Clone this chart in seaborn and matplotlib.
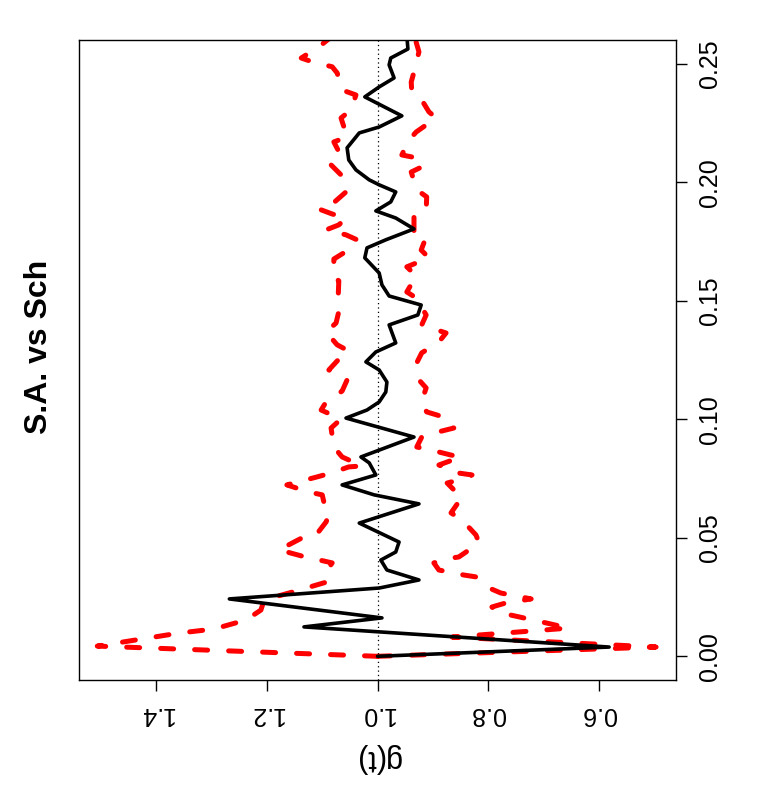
import matplotlib
matplotlib.use('Agg')
import matplotlib.pyplot as plt
import seaborn as sns
import pandas as pd

# distance t and observed pair correlation g(t) (black curve)
t_obs = [0.0, 0.0039, 0.0124, 0.0162, 0.0242, 0.0288, 0.0322, 0.0364, 0.0406, 0.0440,
         0.0482, 0.0562, 0.0643, 0.0681, 0.0723, 0.0765, 0.0816, 0.0841, 0.0925, 0.1005,
         0.1039, 0.1073, 0.1115, 0.1157, 0.1208, 0.1242, 0.1284, 0.1322, 0.1398, 0.1440,
         0.1482, 0.1520, 0.1567, 0.1617, 0.1681, 0.1723, 0.1757, 0.1803, 0.1849, 0.1879,
         0.1917, 0.1959, 0.1989, 0.2010, 0.2052, 0.2094, 0.2145, 0.2208, 0.2233, 0.2280,
         0.2360, 0.2402, 0.2440, 0.2495, 0.2524, 0.2562, 0.2620]
g_obs = [1.000, 0.581, 1.133, 0.992, 1.268, 0.997, 0.925, 0.983, 0.994, 0.967,
         0.961, 1.033, 0.925, 1.006, 1.064, 1.003, 1.015, 1.030, 0.934, 1.057,
         1.019, 0.997, 0.985, 0.983, 0.997, 1.021, 1.003, 0.967, 0.979, 0.927,
         0.921, 0.979, 0.992, 0.997, 1.023, 1.019, 0.985, 0.934, 0.967, 1.003,
         0.976, 0.967, 0.997, 1.015, 1.039, 1.052, 1.055, 1.033, 0.997, 0.956,
         1.023, 0.997, 0.970, 0.979, 0.976, 0.945, 0.947]

# upper simulation envelope
t_hi = [0.0, 0.0043, 0.0098, 0.0115, 0.0153, 0.0195, 0.0238, 0.0271, 0.0314, 0.0364,
        0.0394, 0.0423, 0.0449, 0.0499, 0.0512, 0.0567, 0.0596, 0.0609, 0.0681, 0.0693,
        0.0723, 0.0757, 0.0773, 0.0799, 0.0803, 0.0841, 0.0883, 0.0963, 0.1001, 0.1039,
        0.1073, 0.1119, 0.1166, 0.1208, 0.1246, 0.1288, 0.1314, 0.1368, 0.1406, 0.1474,
        0.1524, 0.1584, 0.1600, 0.1676, 0.1702, 0.1757, 0.1778, 0.1799, 0.1820, 0.1849,
        0.1866, 0.1887, 0.1908, 0.1959, 0.2010, 0.2073, 0.2111, 0.2170, 0.2191, 0.2271,
        0.2305, 0.2368, 0.2389, 0.2461, 0.2487, 0.2508, 0.2524, 0.2571, 0.2622]
g_hi = [1.000, 1.507, 1.359, 1.296, 1.238, 1.211, 1.205, 1.154, 1.091, 1.091,
        1.082, 1.137, 1.178, 1.137, 1.111, 1.093, 1.088, 1.093, 1.100, 1.124,
        1.164, 1.109, 1.084, 1.052, 1.028, 1.064, 1.079, 1.084, 1.066, 1.102,
        1.093, 1.064, 1.055, 1.088, 1.073, 1.052, 1.073, 1.093, 1.075, 1.068,
        1.071, 1.070, 1.079, 1.079, 1.061, 1.037, 1.057, 1.093, 1.070, 1.057,
        1.082, 1.106, 1.082, 1.057, 1.057, 1.084, 1.066, 1.079, 1.055, 1.066,
        1.048, 1.039, 1.064, 1.073, 1.082, 1.118, 1.138, 1.106, 1.079]

# lower simulation envelope
t_lo = [0.0, 0.0039, 0.0081, 0.0119, 0.0145, 0.0187, 0.0208, 0.0225, 0.0242, 0.0267,
        0.0288, 0.0335, 0.0343, 0.0364, 0.0394, 0.0411, 0.0419, 0.0478, 0.0512, 0.0575,
        0.0605, 0.0672, 0.0693, 0.0731, 0.0744, 0.0765, 0.0773, 0.0807, 0.0841, 0.0849,
        0.0870, 0.0883, 0.0925, 0.0942, 0.0963, 0.1005, 0.1031, 0.1069, 0.1132, 0.1166,
        0.1238, 0.1280, 0.1326, 0.1364, 0.1398, 0.1440, 0.1512, 0.1537, 0.1605, 0.1643,
        0.1681, 0.1714, 0.1769, 0.1790, 0.1854, 0.1879, 0.1938, 0.1968, 0.2043, 0.2069,
        0.2103, 0.2115, 0.2178, 0.2212, 0.2271, 0.2297, 0.2347, 0.2381, 0.2423, 0.2465,
        0.2550, 0.2622]
g_lo = [1.000, 0.496, 0.865, 0.654, 0.703, 0.784, 0.793, 0.768, 0.722, 0.777,
        0.798, 0.822, 0.844, 0.889, 0.898, 0.876, 0.853, 0.816, 0.822, 0.847,
        0.867, 0.847, 0.858, 0.874, 0.853, 0.829, 0.853, 0.889, 0.849, 0.867,
        0.903, 0.929, 0.920, 0.898, 0.862, 0.874, 0.911, 0.921, 0.912, 0.925,
        0.929, 0.920, 0.889, 0.876, 0.920, 0.912, 0.930, 0.947, 0.930, 0.947,
        0.907, 0.921, 0.912, 0.934, 0.934, 0.912, 0.911, 0.929, 0.939, 0.916,
        0.930, 0.956, 0.943, 0.930, 0.894, 0.907, 0.920, 0.938, 0.939, 0.934,
        0.925, 0.934]

x_ticks = [0.6, 0.8, 1.0, 1.2, 1.4]
t_ticks = [0.00, 0.05, 0.10, 0.15, 0.20, 0.25]

sns.set_style('white')
plt.rcParams['font.family'] = ['Liberation Sans', 'DejaVu Sans']
plt.rcParams['text.color'] = 'black'
plt.rcParams['axes.labelcolor'] = 'black'
plt.rcParams['xtick.color'] = 'black'
plt.rcParams['ytick.color'] = 'black'

fig = plt.figure(figsize=(7.77, 8.0), dpi=100)
ax = fig.add_axes([0.1017, 0.15, 0.7683, 0.80])

df_obs = pd.DataFrame({'g': g_obs, 't': t_obs})
df_hi = pd.DataFrame({'g': g_hi, 't': t_hi})
df_lo = pd.DataFrame({'g': g_lo, 't': t_lo})

# reference line g = 1
ax.axvline(1.0, color='black', lw=0.9, ls=(0, (1, 2.5)), zorder=1)

for d in (df_hi, df_lo):
    sns.lineplot(data=d, x='g', y='t', sort=False, estimator=None, ax=ax,
                 color='red', lw=3.6, zorder=2)
    ax.lines[-1].set_linestyle((0, (2.6, 4.2)))
    ax.lines[-1].set_dash_capstyle('round')

sns.lineplot(data=df_obs, x='g', y='t', sort=False, estimator=None, ax=ax,
             color='black', lw=2.6, zorder=3)

ax.set_xlim(1.54, 0.46)
ax.set_ylim(-0.01, 0.26)

ax.set_xticks(x_ticks)
ax.set_xticklabels([f'{v:.1f}' for v in x_ticks], rotation=180, fontsize=18)
ax.yaxis.tick_right()
ax.set_yticks(t_ticks)
ax.set_yticklabels([f'{v:.2f}' for v in t_ticks], rotation=90, va='center', fontsize=18)
ax.tick_params(axis='both', direction='out', length=8, width=1, color='black', pad=8,
               bottom=True, right=True, left=False)

ax.set_xlabel('g(t)', rotation=180, fontsize=22, labelpad=12)
ax.set_ylabel('')

for s in ax.spines.values():
    s.set_visible(True)
    s.set_color('black')
    s.set_linewidth(1.0)

fig.text(0.050, 0.566, 'S.A. vs Sch', rotation=90, fontsize=23, fontweight='bold',
         ha='center', va='center', color='black')

fig.savefig('out.png', dpi=100)
